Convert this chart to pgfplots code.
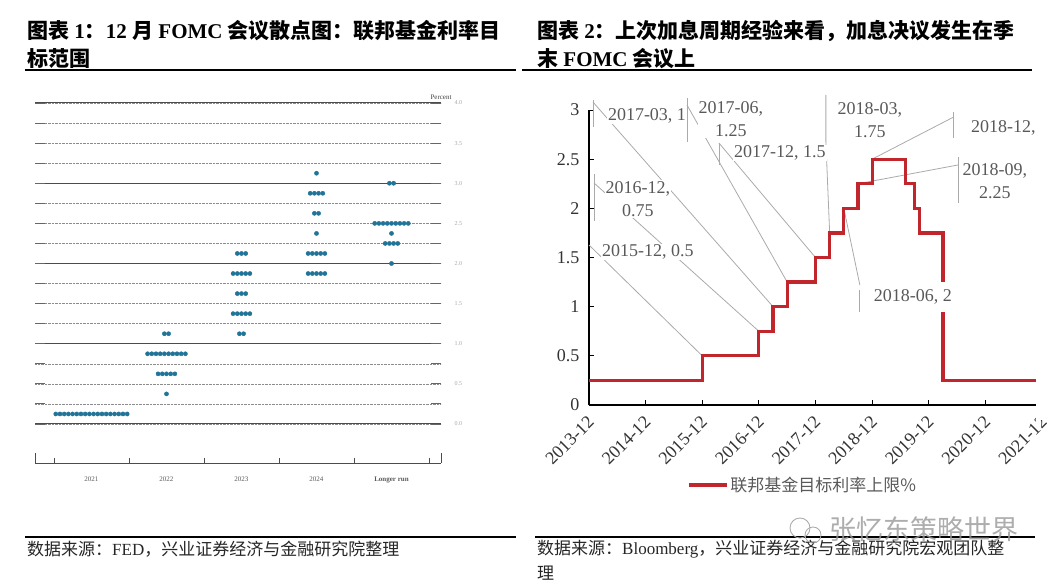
\documentclass[border=0pt]{standalone}
\usepackage{pgfplots}
\pgfplotsset{compat=1.18}
\usepackage{pgfplotstable}
\usepackage{fontspec}
\setmainfont{Liberation Serif}
\newfontfamily\cjk{Noto Sans CJK SC}
\newcommand\zh[1]{{\cjk #1}}
\definecolor{dotblue}{RGB}{33,116,152}
\definecolor{fedred}{RGB}{192,38,44}
\definecolor{leader}{RGB}{170,170,170}
\definecolor{lbl}{RGB}{89,89,89}
\tikzset{lblnode/.style={fill=white, inner sep=1pt, font=\fontsize{18}{23}\selectfont, text=lbl}}

% months since 2013-12, upper bound of the fed funds target
\pgfplotstableread{
m    v
0    0.25
24   0.50
36   0.75
39   1.00
42   1.25
48   1.50
51   1.75
54   2.00
57   2.25
60   2.50
67   2.25
69   2.00
70   1.75
75   0.25
96   0.25
}\fedrate

% dot plot: category position (with small offsets), rate
\pgfplotstableread{
x      y
0.524  0.125
0.580  0.125
0.636  0.125
0.692  0.125
0.748  0.125
0.804  0.125
0.860  0.125
0.916  0.125
0.972  0.125
1.028  0.125
1.084  0.125
1.140  0.125
1.196  0.125
1.252  0.125
1.308  0.125
1.364  0.125
1.420  0.125
1.476  0.125
2.000  0.375
1.888  0.625
1.944  0.625
2.000  0.625
2.056  0.625
2.112  0.625
1.748  0.875
1.804  0.875
1.860  0.875
1.916  0.875
1.972  0.875
2.028  0.875
2.084  0.875
2.140  0.875
2.196  0.875
2.252  0.875
1.972  1.125
2.028  1.125
2.972  1.125
3.028  1.125
2.888  1.375
2.944  1.375
3.000  1.375
3.056  1.375
3.112  1.375
2.944  1.625
3.000  1.625
3.056  1.625
2.888  1.875
2.944  1.875
3.000  1.875
3.056  1.875
3.112  1.875
2.944  2.125
3.000  2.125
3.056  2.125
3.888  1.875
3.944  1.875
4.000  1.875
4.056  1.875
4.112  1.875
3.888  2.125
3.944  2.125
4.000  2.125
4.056  2.125
4.112  2.125
4.000  2.375
3.972  2.625
4.028  2.625
3.916  2.875
3.972  2.875
4.028  2.875
4.084  2.875
4.000  3.125
5.000  2.000
4.916  2.250
4.972  2.250
5.028  2.250
5.084  2.250
5.000  2.375
4.776  2.500
4.832  2.500
4.888  2.500
4.944  2.500
5.000  2.500
5.056  2.500
5.112  2.500
5.168  2.500
5.224  2.500
4.972  3.000
5.028  3.000
}\dotdata

\begin{document}
\begin{tikzpicture}

% titles
\begin{scope}[font=\fontsize{21}{24}\selectfont\bfseries]
\node[anchor=west, inner sep=0] at (27pt,551pt) {\zh{图表} 1\zh{：}12 \zh{月} FOMC \zh{会议散点图：联邦基金利率目}};
\node[anchor=west, inner sep=0] at (27pt,523pt) {\zh{标范围}};
\node[anchor=west, inner sep=0] at (537pt,551pt) {\zh{图表} 2\zh{：上次加息周期经验来看，加息决议发生在季}};
\node[anchor=west, inner sep=0] at (537pt,523pt) {\zh{末} FOMC \zh{会议上}};
\end{scope}
\draw[line width=1.2pt] (25pt,512pt) -- (516pt,512pt);
\draw[line width=1.2pt] (522pt,512pt) -- (1032pt,512pt);

% left panel: dot plot
\begin{axis}[
  at={(35pt,119pt)}, anchor=south west, scale only axis,
  width=406pt, height=360pt,
  xmin=0.247, xmax=5.66, ymin=-0.486, ymax=4,
  axis line style={draw=none},
  clip=false,
  xtick=\empty, xtick pos=bottom,
  extra x ticks={1,2,3,4,5},
  extra x tick labels={2021,2022,2023,2024,\textbf{Longer run}},
  extra x tick style={major tick length=0pt,
    xticklabel style={yshift=-10pt, font=\fontsize{7}{8}\selectfont, text=black!65}},
  ytick={0,0.5,...,4},
  yticklabels={0.0,0.5,1.0,1.5,2.0,2.5,3.0,3.5,4.0},
  minor ytick={0.25,0.75,...,3.75},
  ytick pos=both, yticklabel pos=right,
  yticklabel style={xshift=10pt, font=\fontsize{6}{7}\selectfont, text=black!35},
  tick align=inside, major tick length=10pt, minor tick length=10pt,
  tick style={draw=black!60, line width=0.9pt},
  ymajorgrids, yminorgrids,
  major grid style={densely dotted, black!45, line width=0.6pt},
  minor grid style={densely dotted, black!45, line width=0.6pt},
  extra y ticks={0,1,2,3,4}, extra y tick labels={},
  extra y tick style={major grid style={solid, black!70, line width=1pt}},
]
\addplot[only marks, mark=*, mark size=2.1pt, color=dotblue] table[x=x, y=y] {\dotdata};
\end{axis}
\draw[black!70, line width=0.9pt] (35pt,119pt) -- (441pt,119pt);
\foreach \t in {54,129,204,279,354,429} \draw[black!70, line width=0.9pt] (\t pt,119pt) -- (\t pt,124pt);
\draw[black!70, line width=0.9pt] (35pt,119pt) -- (35pt,129pt);
\draw[black!70, line width=0.9pt] (441pt,119pt) -- (441pt,129pt);
\node[font=\fontsize{7}{8}\selectfont, text=black!75] at (441pt,485pt) {Percent};

% right panel: step line
\begin{axis}[
  at={(589pt,177pt)}, anchor=south west, scale only axis,
  width=453pt, height=295pt,
  xmin=0, xmax=96, ymin=0, ymax=3,
  axis x line=bottom, axis y line=left,
  axis line style={-, line width=1.3pt, black},
  xtick={0,12,...,96},
  xticklabels={2013-12,2014-12,2015-12,2016-12,2017-12,2018-12,2019-12,2020-12,2021-12},
  ytick={0,0.5,...,3},
  yticklabels={0,0.5,1,1.5,2,2.5,3},
  tick align=inside, major tick length=5pt,
  tick style={black, line width=1pt},
  ticklabel style={font=\fontsize{18}{20}\selectfont, text=black!80},
  xticklabel style={xshift=2pt, yshift=-14pt, rotate=45, anchor=east, inner sep=0pt},
  yticklabel style={xshift=-6pt},
  clip=false,
  legend style={at={(0.216,-0.271)}, anchor=west, draw=none, fill=none,
    inner sep=0pt, font=\fontsize{17}{20}\selectfont, text=lbl},
  legend image code/.code={\draw[#1] (0pt,0pt) -- (38pt,0pt);},
]
% leader lines
\draw[leader, line width=0.8pt] (0,1.627) -- (24,0.5);
\draw[leader, line width=0.8pt] (1.06,2.349) -- (1.06,1.871);
\draw[leader, line width=0.8pt] (1.06,2.258) -- (36,0.75);
\draw[leader, line width=0.8pt] (0.85,3.10) -- (0.85,2.827);
\draw[leader, line width=0.8pt] (0.85,3.08) -- (39,1);
\draw[leader, line width=0.8pt] (20.76,3.122) -- (20.76,2.675);
\draw[leader, line width=0.8pt] (20.76,3.051) -- (42,1.25);
\draw[leader, line width=0.8pt] (27.54,2.664) -- (27.54,2.441);
\draw[leader, line width=0.8pt] (27.54,2.664) -- (48,1.5);
\draw[leader, line width=0.8pt] (50.2,3.153) -- (50.2,2.675) -- (51,1.75);
\draw[leader, line width=0.8pt] (57.4,1.17) -- (57.4,0.946);
\draw[leader, line width=0.8pt] (57.4,1.22) -- (54,2);
\draw[leader, line width=0.8pt] (78.2,2.522) -- (78.2,2.054);
\draw[leader, line width=0.8pt] (78.2,2.441) -- (57,2.25);
\draw[leader, line width=0.8pt] (77.3,2.98) -- (77.3,2.715);
\draw[leader, line width=0.8pt] (77.3,2.929) -- (60,2.5);

\addplot[const plot, color=fedred, line width=3.2pt] table[x=m, y=v] {\fedrate};
\addlegendentry{\zh{联邦基金目标利率上限\%}}

% data labels
\node[lblnode] at (12.5,1.556) {2015-12, 0.5};
\node[lblnode, align=center] at (10.38,2.095) {2016-12,\\0.75};
\node[lblnode] at (12.29,2.939) {2017-03, 1};
\node[lblnode, align=center] at (30.08,2.909) {2017-06,\\1.25};
\node[lblnode] at (40.47,2.563) {2017-12, 1.5};
\node[lblnode, align=center] at (59.53,2.898) {2018-03,\\1.75};
\node[lblnode, minimum height=30pt] at (68.64,1.098) {2018-06, 2};
\node[lblnode, align=center] at (86.02,2.278) {2018-09,\\2.25};
\node[lblnode, anchor=west] at (80.72,2.817) {2018-12, 2.5};
\end{axis}
\fill[white] (1036pt,162pt) rectangle (1048pt,498pt);

% sources
\draw[line width=1.2pt] (25pt,45pt) -- (516pt,45pt);
\draw[line width=1.2pt] (535pt,45pt) -- (1035pt,45pt);
\begin{scope}[font=\fontsize{17}{20}\selectfont, text=black!85]
\node[anchor=west, inner sep=0] at (27pt,33pt) {\zh{数据来源：}FED\zh{，兴业证券经济与金融研究院整理}};
\node[anchor=west, inner sep=0] at (537pt,33pt) {\zh{数据来源：}Bloomberg\zh{，兴业证券经济与金融研究院宏观团队整}};
\node[anchor=west, inner sep=0] at (537pt,9pt) {\zh{理}};
\end{scope}

% watermark
\draw[black!35, line width=0.8pt] (800pt,54pt) circle (10pt);
\draw[black!35, line width=0.8pt] (813pt,47pt) circle (8pt);
\node[anchor=west, text=black!40, opacity=0.8, font=\cjk\fontsize{27}{30}\selectfont] at (826pt,53pt) {张忆东策略世界};

\pgfresetboundingbox
\useasboundingbox (0pt,0pt) rectangle (1047pt,582pt);
\end{tikzpicture}
\end{document}
